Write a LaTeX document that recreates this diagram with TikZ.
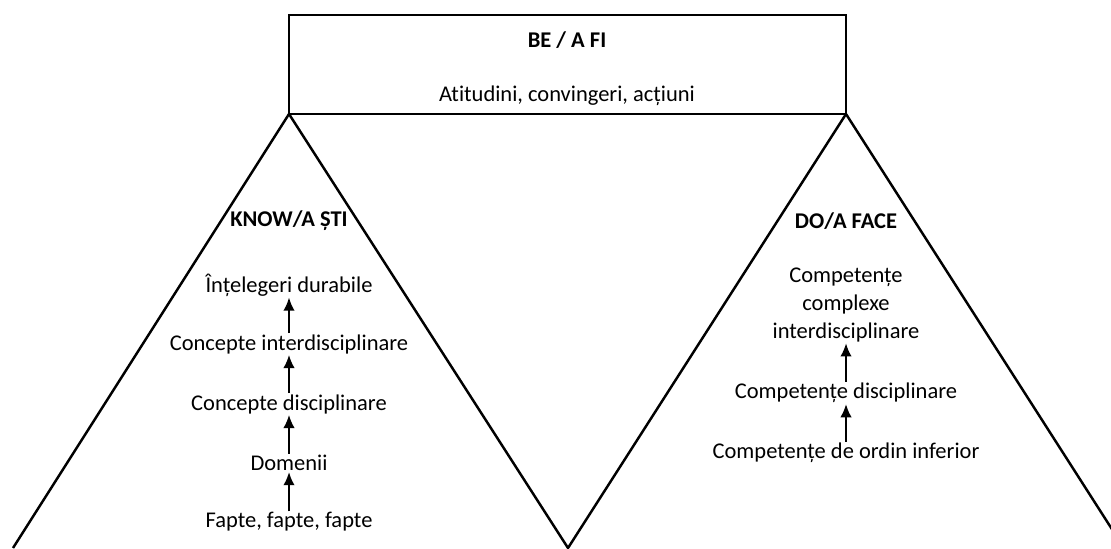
\documentclass[tikz,border=0pt]{standalone}
\usepackage{fontspec}
\setmainfont{Carlito}[Ligatures=NoCommon]
\usetikzlibrary{arrows.meta}
\begin{document}
\begin{tikzpicture}[x=0.02cm,y=-0.02cm,
  lbl/.style={font=\fontsize{12.8}{15.9}\selectfont,inner sep=0.5pt},
  ttl/.style={font=\fontsize{12.8}{15.9}\selectfont\bfseries,inner sep=0.5pt},
  up/.style={-{Latex[length=7.5pt,width=6.5pt]},line width=1.1pt}]
\useasboundingbox (0,0) rectangle (1111,548);
\begin{scope}
\clip (0,0) rectangle (1111,548);
\draw[line width=1.5pt] (289,15) rectangle (846,114);
\draw[line width=1.4pt] (13,548) -- (289,114) -- (568,548) -- (846,114) -- (1124,548);
\end{scope}

\node[ttl] (be) at (567,40) {BE / A FI};
\node[lbl] (atit) at (567,96) {Atitudini, convingeri, acțiuni};

\node[ttl] (know) at (289,221) {KNOW/A ȘTI};
\node[lbl] (intel) at (289,285) {Înțelegeri durabile};
\node[lbl] (cinter) at (289,344) {Concepte interdisciplinare};
\node[lbl] (cdisc) at (289,404) {Concepte disciplinare};
\node[lbl] (dom) at (289,463) {Domenii};
\node[lbl] (fapte) at (289,522) {Fapte, fapte, fapte};

\node[ttl] (do) at (846,221) {DO/A FACE};
\node[lbl,align=center] (ccomp) at (846,305) {Competențe\\complexe\\interdisciplinare};
\node[lbl] (cdisc2) at (846,393) {Competențe disciplinare};
\node[lbl] (cinf) at (846,453) {Competențe de ordin inferior};

\draw[up] (fapte) -- (dom);
\draw[up] (dom) -- (cdisc);
\draw[up] (cdisc) -- (cinter);
\draw[up] (cinter) -- (intel);

\draw[up] (cinf) -- (cdisc2);
\draw[up] (cdisc2) -- (ccomp);
\end{tikzpicture}
\end{document}
